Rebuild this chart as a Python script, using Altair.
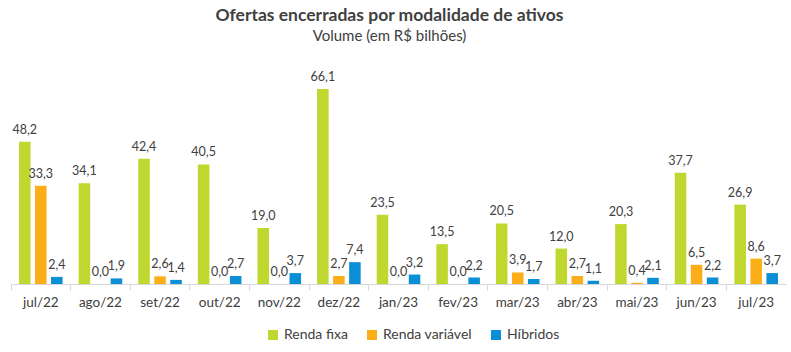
import altair as alt
import pandas as pd

months = ["jul/22", "ago/22", "set/22", "out/22", "nov/22", "dez/22", "jan/23",
          "fev/23", "mar/23", "abr/23", "mai/23", "jun/23", "jul/23"]
renda_fixa = [48.2, 34.1, 42.4, 40.5, 19.0, 66.1, 23.5, 13.5, 20.5, 12.0, 20.3, 37.7, 26.9]
renda_variavel = [33.3, 0.0, 2.6, 0.0, 0.0, 2.7, 0.0, 0.0, 3.9, 2.7, 0.4, 6.5, 8.6]
hibridos = [2.4, 1.9, 1.4, 2.7, 3.7, 7.4, 3.2, 2.2, 1.7, 1.1, 2.1, 2.2, 3.7]
series_names = ["Renda fixa", "Renda variável", "Híbridos"]
series_colors = ["#C0D72F", "#FBAE17", "#0A8FD6"]

rows = []
for i, m in enumerate(months):
    for name, vals in zip(series_names, [renda_fixa, renda_variavel, hibridos]):
        rows.append({"mes": m, "serie": name, "valor": vals[i]})
df = pd.DataFrame(rows)

FONT = "Lato"
TXT = "#404040"

x = alt.X("mes:N", sort=months,
          scale=alt.Scale(paddingInner=0, paddingOuter=0),
          axis=alt.Axis(title=None, labelAngle=0, labelFontSize=13.5, labelColor=TXT,
                        labelFont=FONT, domainColor="#D9D9D9", tickColor="#D9D9D9",
                        tickSize=6, bandPosition=0, labelPadding=5, grid=False))
xo = alt.XOffset("serie:N", sort=series_names,
                 scale=alt.Scale(paddingInner=0.28, paddingOuter=0.5))
y = alt.Y("valor:Q", scale=alt.Scale(domain=[0, 72.5], nice=False, zero=True),
          axis=None)

bars = alt.Chart(df).mark_bar().encode(
    x=x, xOffset=xo, y=y,
    color=alt.Color("serie:N", sort=series_names,
                    scale=alt.Scale(domain=series_names, range=series_colors),
                    legend=alt.Legend(title=None, orient="none", direction="horizontal",
                                      legendX=255, legendY=258, symbolType="square",
                                      symbolSize=100, symbolStrokeWidth=0,
                                      labelFontSize=14, labelFont=FONT, labelColor=TXT,
                                      columnPadding=17, labelOffset=4, padding=0)),
)

labels = alt.Chart(df).transform_calculate(
    lab="replace(format(datum.valor, '.1f'), '.', ',')"
).mark_text(baseline="bottom", dy=-5, fontSize=12.5, font=FONT, color=TXT).encode(
    x=x, xOffset=xo, y=y, text="lab:N"
)

chart = alt.layer(bars, labels).properties(
    width=775, height=214,
    title=alt.Title("Ofertas encerradas por modalidade de ativos",
                    subtitle="Volume (em R$ bilhões)",
                    anchor="middle", dx=-9, font=FONT, fontSize=17.5, fontWeight="bold",
                    color=TXT, subtitleFont=FONT, subtitleFontSize=15,
                    subtitleColor=TXT, offset=26, subtitlePadding=5),
    autosize=alt.AutoSizeParams(type="none"),
    padding={"left": 11, "top": 70, "right": 5, "bottom": 68},
).configure_view(stroke=None)

chart.save("out.html", embed_options={"renderer": "svg", "actions": False})
